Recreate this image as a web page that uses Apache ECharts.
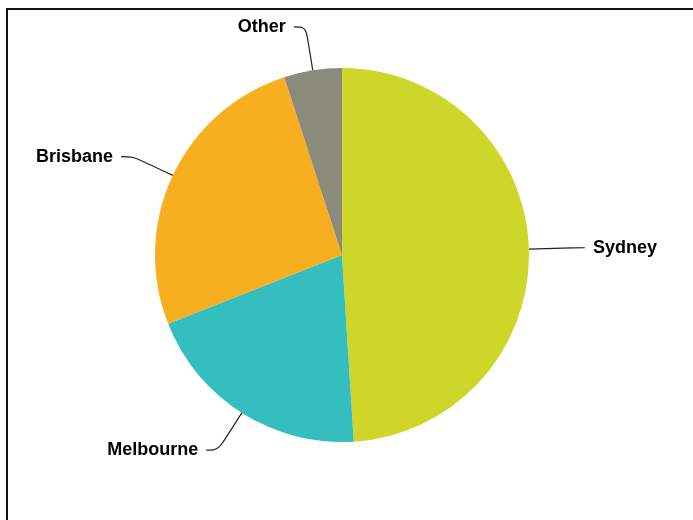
<!DOCTYPE html>
<html>
<head>
<meta charset="utf-8">
<script src="https://cdn.jsdelivr.net/npm/echarts@6/dist/echarts.min.js"></script>
<style>
  html, body { margin: 0; padding: 0; background: #fff; }
  #chart { width: 693px; height: 520px; }
</style>
</head>
<body>
<div id="chart"></div>
<script>
// Share of total by city (percent)
const cities = ['Sydney', 'Melbourne', 'Brisbane', 'Other'];
const shares = [49, 20, 26, 5];
const sliceColors = ['#CFD62A', '#35BEC0', '#F7AE1F', '#8B8B7B'];

const chart = echarts.init(document.getElementById('chart'), null, { renderer: 'canvas' });

chart.setOption({
  backgroundColor: '#ffffff',
  animation: false,
  graphic: [{
    type: 'rect',
    shape: { x: 7, y: 9, width: 720, height: 540 },
    style: { fill: 'none', stroke: '#111111', lineWidth: 2 },
    silent: true
  }],
  series: [{
    type: 'pie',
    center: [342, 255],
    radius: [0, 187],
    startAngle: 90,
    clockwise: true,
    avoidLabelOverlap: false,
    itemStyle: { borderWidth: 0 },
    label: {
      show: true,
      formatter: '{b}',
      color: '#000000',
      fontFamily: 'Liberation Sans, Arial, sans-serif',
      fontWeight: 'bold',
      fontSize: 18,
      distanceToLabelLine: 8
    },
    labelLine: {
      show: true,
      length: 44,
      length2: 12,
      smooth: 0.35,
      lineStyle: { color: '#222222', width: 1.2 }
    },
    data: cities.map((name, i) => ({
      name: name,
      value: shares[i],
      itemStyle: { color: sliceColors[i] }
    }))
  }]
});
</script>
</body>
</html>
